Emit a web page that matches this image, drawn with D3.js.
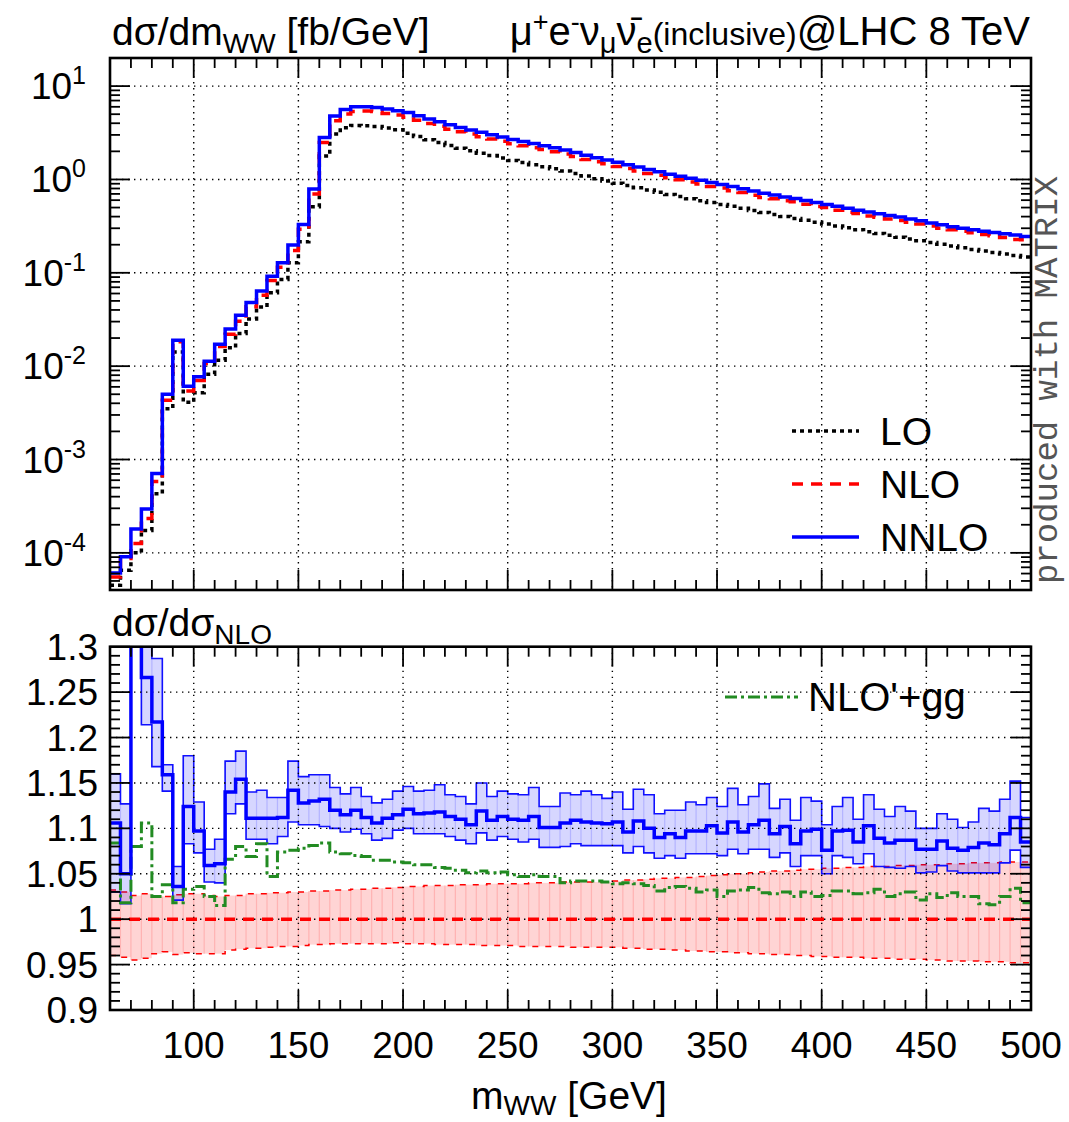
<!DOCTYPE html>
<html><head><meta charset="utf-8">
<script src="https://cdn.jsdelivr.net/npm/d3@7"></script>
<style>body{margin:0;background:#fff}svg{display:block}text{font-family:"Liberation Sans",Arial,Helvetica,sans-serif;fill:#000}</style>
</head><body><svg id="c" width="1069" height="1122"></svg>
<script>
// ---------------- data (bin lower edges, 5 GeV bins) ----------------
const binLo = [60,65,70,75,80,85,90,95,100,105,110,115,120,125,130,135,140,145,150,155,
 160,165,170,175,180,185,190,195,200,205,210,215,220,225,230,235,240,245,250,255,
 260,265,270,275,280,285,290,295,300,305,310,315,320,325,330,335,340,345,350,355,
 360,365,370,375,380,385,390,395,400,405,410,415,420,425,430,435,440,445,450,455,
 460,465,470,475,480,485,490,495];
const binHi = 500;
const xTicksMajor = [100,150,200,250,300,350,400,450,500];
const yTopDecades = [1e-4,1e-3,1e-2,1e-1,1e0,1e1];
const yTopExp = ["-4","-3","-2","-1","0","1"];
const yBotTicks = [0.9,0.95,1,1.05,1.1,1.15,1.2,1.25,1.3];
const yBotLabels = ["0.9","0.95","1","1.05","1.1","1.15","1.2","1.25","1.3"];

const xsLO = [4.5e-5,6.5e-5,1.0e-4,1.74e-4,4.3e-4,3.5e-3,1.42e-2,4.1e-3,5.2e-3,8.2e-3,
 1.16e-2,1.57e-2,2.24e-2,3.2e-2,4.3e-2,6.1e-2,8.5e-2,0.128,0.215,0.51,
 1.78,3.06,3.57,3.79,3.77,3.70,3.55,3.40,3.12,2.88,
 2.67,2.49,2.31,2.16,2.03,1.91,1.80,1.70,1.60,1.52,
 1.44,1.37,1.30,1.23,1.16,1.09,1.02,0.965,0.91,0.86,
 0.815,0.77,0.73,0.69,0.655,0.622,0.592,0.565,0.540,0.515,
 0.490,0.465,0.443,0.421,0.401,0.382,0.365,0.348,0.333,0.318,
 0.303,0.289,0.276,0.264,0.252,0.241,0.230,0.220,0.211,0.202,
 0.194,0.186,0.178,0.171,0.165,0.159,0.153,0.148];
const xsNLO = [5.5e-5,8.7e-5,1.26e-4,2.33e-4,5.83e-4,4.31e-3,1.83e-2,5.43e-3,7.02e-3,1.067e-2,
 1.62e-2,2.19e-2,3.03e-2,4.32e-2,5.76e-2,8.28e-2,0.115,0.173,0.293,0.699,
 2.49,4.26,5.04,5.36,5.40,5.33,5.10,4.89,4.64,4.30,
 3.98,3.71,3.46,3.24,3.06,2.86,2.72,2.56,2.41,2.30,
 2.18,2.09,1.98,1.87,1.76,1.64,1.55,1.47,1.38,1.31,
 1.23,1.16,1.11,1.04,0.991,0.939,0.893,0.843,0.808,0.759,
 0.725,0.679,0.640,0.622,0.590,0.577,0.542,0.514,0.502,0.469,
 0.446,0.431,0.405,0.393,0.378,0.363,0.348,0.334,0.318,0.301,
 0.289,0.279,0.268,0.257,0.250,0.239,0.228,0.226];
const xsNNLO = [6.1e-5,9.1e-5,1.8e-4,2.95e-4,7.1e-4,5.0e-3,1.9e-2,6.1e-3,7.7e-3,1.13e-2,
 1.72e-2,2.5e-2,3.5e-2,4.8e-2,6.4e-2,9.2e-2,0.128,0.198,0.33,0.79,
 2.82,4.77,5.62,6.0,6.0,5.9,5.67,5.45,5.2,4.8,
 4.45,4.15,3.85,3.6,3.38,3.2,3.02,2.85,2.68,2.55,
 2.43,2.3,2.18,2.07,1.95,1.82,1.71,1.62,1.53,1.44,
 1.36,1.28,1.21,1.14,1.08,1.03,0.98,0.93,0.885,0.84,
 0.795,0.75,0.71,0.68,0.65,0.625,0.595,0.565,0.54,0.515,
 0.49,0.468,0.447,0.428,0.41,0.395,0.378,0.36,0.342,0.327,
 0.312,0.300,0.289,0.279,0.27,0.262,0.254,0.245];

const ratioNNLO = [1.106,1.050,1.45,1.266,1.217,1.159,1.036,1.124,1.097,1.059,
 1.061,1.140,1.154,1.111,1.111,1.111,1.112,1.142,1.128,1.130,
 1.132,1.120,1.115,1.120,1.112,1.106,1.111,1.115,1.121,1.116,
 1.117,1.118,1.113,1.110,1.104,1.119,1.109,1.113,1.110,1.109,
 1.113,1.101,1.101,1.106,1.109,1.107,1.106,1.105,1.107,1.096,
 1.108,1.100,1.090,1.094,1.090,1.097,1.097,1.103,1.095,1.107,
 1.096,1.104,1.109,1.094,1.102,1.083,1.097,1.099,1.076,1.097,
 1.098,1.085,1.103,1.089,1.084,1.087,1.087,1.077,1.077,1.086,
 1.078,1.076,1.079,1.084,1.082,1.094,1.112,1.085];
const ratioNNLOhi = [1.16,1.127,1.55,1.33,1.287,1.170,1.058,1.180,1.129,1.077,
 1.088,1.174,1.185,1.140,1.142,1.134,1.134,1.174,1.157,1.159,
 1.159,1.145,1.138,1.145,1.135,1.128,1.132,1.141,1.146,1.141,
 1.142,1.148,1.137,1.135,1.127,1.150,1.135,1.141,1.138,1.137,
 1.145,1.124,1.124,1.139,1.137,1.141,1.137,1.133,1.140,1.121,
 1.143,1.137,1.116,1.120,1.120,1.129,1.126,1.134,1.124,1.144,
 1.126,1.135,1.149,1.122,1.132,1.109,1.134,1.130,1.104,1.124,
 1.134,1.110,1.137,1.121,1.113,1.124,1.119,1.100,1.100,1.116,
 1.110,1.101,1.107,1.122,1.119,1.132,1.152,1.112];
const ratioNNLOlo = [1.03,1.017,1.35,1.214,1.168,1.141,1.021,1.083,1.073,1.041,
 1.040,1.116,1.127,1.088,1.088,1.083,1.091,1.107,1.104,1.104,
 1.102,1.100,1.096,1.099,1.094,1.087,1.089,1.098,1.100,1.094,
 1.094,1.094,1.091,1.087,1.083,1.095,1.087,1.091,1.088,1.085,
 1.088,1.079,1.079,1.080,1.083,1.081,1.081,1.081,1.081,1.073,
 1.080,1.073,1.067,1.070,1.067,1.072,1.072,1.072,1.070,1.077,
 1.072,1.077,1.077,1.068,1.073,1.058,1.070,1.070,1.050,1.070,
 1.068,1.061,1.072,1.058,1.057,1.056,1.058,1.051,1.052,1.059,
 1.053,1.051,1.051,1.051,1.051,1.062,1.076,1.057];
const ratioNLOhi = [1.032,1.030,1.026,1.028,1.025,1.025,1.027,1.028,1.028,1.026,
 1.025,1.026,1.026,1.028,1.028,1.029,1.029,1.030,1.030,1.031,
 1.031,1.032,1.032,1.033,1.033,1.034,1.034,1.035,1.036,1.036,
 1.037,1.037,1.037,1.038,1.038,1.038,1.039,1.039,1.039,1.039,
 1.040,1.040,1.040,1.041,1.041,1.041,1.041,1.041,1.042,1.043,
 1.043,1.044,1.045,1.045,1.046,1.046,1.047,1.048,1.049,1.050,
 1.050,1.051,1.052,1.053,1.053,1.054,1.055,1.055,1.056,1.056,
 1.057,1.057,1.058,1.058,1.058,1.059,1.059,1.060,1.060,1.060,
 1.061,1.061,1.062,1.062,1.062,1.063,1.063,1.063];
const ratioNLOlo = [0.960,0.958,0.955,0.957,0.962,0.964,0.961,0.963,0.962,0.962,
 0.962,0.966,0.967,0.968,0.968,0.969,0.970,0.970,0.971,0.972,
 0.972,0.973,0.973,0.973,0.973,0.973,0.973,0.974,0.973,0.973,
 0.973,0.972,0.972,0.972,0.972,0.971,0.971,0.971,0.971,0.970,
 0.970,0.970,0.970,0.970,0.969,0.969,0.969,0.969,0.969,0.968,
 0.968,0.967,0.967,0.966,0.966,0.965,0.965,0.964,0.964,0.963,
 0.963,0.962,0.962,0.961,0.961,0.960,0.960,0.959,0.959,0.958,
 0.958,0.958,0.957,0.957,0.957,0.956,0.956,0.956,0.955,0.955,
 0.954,0.954,0.954,0.953,0.953,0.953,0.952,0.952];
const ratioGG = [1.084,1.018,1.080,1.106,1.025,1.038,1.018,1.033,1.036,1.025,
 1.015,1.066,1.080,1.069,1.083,1.047,1.074,1.076,1.078,1.081,
 1.084,1.074,1.072,1.070,1.069,1.065,1.065,1.063,1.062,1.060,
 1.060,1.057,1.056,1.054,1.051,1.053,1.051,1.052,1.049,1.047,
 1.049,1.047,1.047,1.040,1.042,1.042,1.042,1.041,1.039,1.040,
 1.039,1.037,1.031,1.035,1.036,1.034,1.030,1.032,1.025,1.031,
 1.032,1.035,1.029,1.028,1.030,1.025,1.030,1.025,1.026,1.031,
 1.031,1.028,1.029,1.033,1.025,1.028,1.030,1.021,1.028,1.024,
 1.029,1.025,1.025,1.017,1.016,1.025,1.034,1.018];

// ---------------- layout ----------------
const L = 110, R = 1031, T1 = 58, B1 = 590, T2 = 646.7, B2 = 1010;
const svg = d3.select("#c");
const x = d3.scaleLinear().domain([60, 500]).range([L, R]);
const yT = d3.scaleLog().domain([4e-5, 20]).range([B1, T1]);
const yB = d3.scaleLinear().domain([0.9, 1.3]).range([B2, T2]);
const binW = 5;

const defs = svg.append("defs");
defs.append("clipPath").attr("id","clipT").append("rect").attr("x",L).attr("y",T1).attr("width",R-L).attr("height",B1-T1);
defs.append("clipPath").attr("id","clipB").append("rect").attr("x",L).attr("y",T2).attr("width",R-L).attr("height",B2-T2);

function stepPts(vals){ const p = binLo.map((b,i)=>[b, vals[i]]); p.push([binHi, vals[vals.length-1]]); return p; }
const gridStyle = g => g.attr("stroke","#000").attr("stroke-width",1.4).attr("stroke-dasharray","1.4,4.6").attr("fill","none");

// ---------------- TOP PANEL ----------------
const gT = svg.append("g");
const gridT = gT.append("g").call(gridStyle);
xTicksMajor.filter(v=>v<500).forEach(v=>gridT.append("line").attr("x1",x(v)).attr("x2",x(v)).attr("y1",T1).attr("y2",B1));
yTopDecades.forEach(v=>gridT.append("line").attr("x1",L).attr("x2",R).attr("y1",yT(v)).attr("y2",yT(v)));

const lineT = d3.line().x(d=>x(d[0])).y(d=>yT(d[1])).curve(d3.curveStepAfter);
const curvesT = gT.append("g").attr("clip-path","url(#clipT)").attr("fill","none");
curvesT.append("path").attr("d",lineT(stepPts(xsLO))).attr("stroke","#000").attr("stroke-width",3.5).attr("stroke-dasharray","4,4");
curvesT.append("path").attr("d",lineT(stepPts(xsNLO))).attr("stroke","#ff0000").attr("stroke-width",3.5).attr("stroke-dasharray","11,8");
curvesT.append("path").attr("d",lineT(stepPts(xsNNLO))).attr("stroke","#0000ff").attr("stroke-width",3.5);

// ---------------- BOTTOM PANEL ----------------
const gB = svg.append("g");
const bands = gB.append("g").attr("clip-path","url(#clipB)");
// NLO band
bands.selectAll("rect.nlo").data(binLo).join("rect").attr("class","nlo")
  .attr("x",d=>x(d)).attr("width",d=>x(d+binW)-x(d))
  .attr("y",(d,i)=>yB(ratioNLOhi[i])).attr("height",(d,i)=>yB(ratioNLOlo[i])-yB(ratioNLOhi[i]))
  .attr("fill","#ff0000").attr("fill-opacity",0.17);
bands.selectAll("line.nlov").data(binLo).join("line").attr("class","nlov")
  .attr("x1",d=>x(d)).attr("x2",d=>x(d))
  .attr("y1",(d,i)=>yB(ratioNLOhi[i])).attr("y2",(d,i)=>yB(ratioNLOlo[i]))
  .attr("stroke","#ff8080").attr("stroke-opacity",0.4).attr("stroke-width",1.2);
const lineB = d3.line().x(d=>x(d[0])).y(d=>yB(d[1])).curve(d3.curveStepAfter);
bands.append("path").attr("d",lineB(stepPts(ratioNLOhi))).attr("fill","none").attr("stroke","#ff0000").attr("stroke-width",1.5).attr("stroke-dasharray","6,7");
bands.append("path").attr("d",lineB(stepPts(ratioNLOlo))).attr("fill","none").attr("stroke","#ff0000").attr("stroke-width",1.5).attr("stroke-dasharray","6,7");
// NNLO band
bands.selectAll("rect.nnlo").data(binLo).join("rect").attr("class","nnlo")
  .attr("x",d=>x(d)).attr("width",d=>x(d+binW)-x(d))
  .attr("y",(d,i)=>yB(ratioNNLOhi[i])).attr("height",(d,i)=>yB(ratioNNLOlo[i])-yB(ratioNNLOhi[i]))
  .attr("fill","#0000ff").attr("fill-opacity",0.16);
bands.selectAll("line.nnlov").data(binLo).join("line").attr("class","nnlov")
  .attr("x1",d=>x(d)).attr("x2",d=>x(d))
  .attr("y1",(d,i)=>yB(ratioNNLOhi[i])).attr("y2",(d,i)=>yB(ratioNNLOlo[i]))
  .attr("stroke","#8080ff").attr("stroke-opacity",0.4).attr("stroke-width",1.2);
bands.append("path").attr("d",lineB(stepPts(ratioNNLOhi))).attr("fill","none").attr("stroke","#1010ff").attr("stroke-width",1.6);
bands.append("path").attr("d",lineB(stepPts(ratioNNLOlo))).attr("fill","none").attr("stroke","#1010ff").attr("stroke-width",1.6);

const gridB = gB.append("g").call(gridStyle);
xTicksMajor.filter(v=>v<500).forEach(v=>gridB.append("line").attr("x1",x(v)).attr("x2",x(v)).attr("y1",T2).attr("y2",B2));
yBotTicks.filter(v=>v>0.9 && v<1.3).forEach(v=>gridB.append("line").attr("x1",L).attr("x2",R).attr("y1",yB(v)).attr("y2",yB(v)));

const curvesB = gB.append("g").attr("clip-path","url(#clipB)").attr("fill","none");
curvesB.append("path").attr("d",lineB(stepPts(ratioGG))).attr("stroke","#228b22").attr("stroke-width",3).attr("stroke-dasharray","12,4,3,4");
curvesB.append("line").attr("x1",L).attr("x2",R).attr("y1",yB(1)).attr("y2",yB(1)).attr("stroke","#ff0000").attr("stroke-width",3.5).attr("stroke-dasharray","11,8");
curvesB.append("path").attr("d",lineB(stepPts(ratioNNLO))).attr("stroke","#0000ff").attr("stroke-width",3.5);

// ---------------- ticks & frames ----------------
const tickG = svg.append("g").attr("stroke","#000").attr("stroke-width",1.8);
const minorX = d3.range(70, 500, 10).filter(v=>v%50!==0);
function xTicks(top, bottom){
  xTicksMajor.forEach(v=>{ tickG.append("line").attr("x1",x(v)).attr("x2",x(v)).attr("y1",bottom).attr("y2",bottom-20);
                           tickG.append("line").attr("x1",x(v)).attr("x2",x(v)).attr("y1",top).attr("y2",top+20); });
  minorX.forEach(v=>{ tickG.append("line").attr("x1",x(v)).attr("x2",x(v)).attr("y1",bottom).attr("y2",bottom-10);
                      tickG.append("line").attr("x1",x(v)).attr("x2",x(v)).attr("y1",top).attr("y2",top+10); });
}
xTicks(T1,B1); xTicks(T2,B2);
function yTick(yy, len){ tickG.append("line").attr("x1",L).attr("x2",L+len).attr("y1",yy).attr("y2",yy);
                         tickG.append("line").attr("x1",R).attr("x2",R-len).attr("y1",yy).attr("y2",yy); }
yTopDecades.forEach(v=>yTick(yT(v),20));
[1e-5,1e-4,1e-3,1e-2,1e-1,1].forEach(dec=>{ for(let m=2;m<=9;m++){ const v=dec*m; if(v>4e-5&&v<20) yTick(yT(v),10);} });
d3.range(0.9,1.3001,0.01).forEach(v=>{ const r=Math.round(v*100); yTick(yB(r/100), r%5===0?20:10); });

svg.append("rect").attr("x",L).attr("y",T1).attr("width",R-L).attr("height",B1-T1).attr("fill","none").attr("stroke","#000").attr("stroke-width",2.6);
svg.append("rect").attr("x",L).attr("y",T2).attr("width",R-L).attr("height",B2-T2).attr("fill","none").attr("stroke","#000").attr("stroke-width",2.6);

// ---------------- labels ----------------
const FS = 37;
yTopDecades.forEach((v,i)=>{
  const t = svg.append("text").attr("x",86).attr("y",yT(v)+13).attr("text-anchor","end").style("font-size",FS+"px");
  t.append("tspan").text("10");
  t.append("tspan").attr("dy",-15).style("font-size","25px").text(yTopExp[i]);
});
yBotTicks.forEach((v,i)=>{
  svg.append("text").attr("x",98).attr("y",yB(v)+13).attr("text-anchor","end").style("font-size",FS+"px").text(yBotLabels[i]);
});
xTicksMajor.forEach(v=>{
  svg.append("text").attr("x",x(v)).attr("y",1058).attr("text-anchor","middle").style("font-size",FS+"px").text(v);
});
// axis title
{ const t = svg.append("text").attr("x",569).attr("y",1109).attr("text-anchor","middle").style("font-size","39px");
  t.append("tspan").text("m"); t.append("tspan").attr("dy",6).style("font-size","28px").text("WW");
  t.append("tspan").attr("dy",-6).text(" [GeV]"); }
// top titles
{ const t = svg.append("text").attr("x",112).attr("y",45).style("font-size","39px");
  t.append("tspan").text("dσ/dm"); t.append("tspan").attr("dy",8).style("font-size","28px").text("WW");
  t.append("tspan").attr("dy",-8).text(" [fb/GeV]"); }
{ const t = svg.append("text").attr("x",1030).attr("y",45).attr("text-anchor","end").style("font-size","40px");
  t.append("tspan").text("μ");
  t.append("tspan").attr("dy",-14).style("font-size","27px").text("+");
  t.append("tspan").attr("dy",14).text("e");
  t.append("tspan").attr("dy",-14).style("font-size","27px").text("-");
  t.append("tspan").attr("dy",14).text("ν");
  t.append("tspan").attr("dy",8).style("font-size","29px").text("μ");
  t.append("tspan").attr("dy",-8).text("ν\u0304");
  t.append("tspan").attr("dy",8).style("font-size","29px").text("e");
  t.append("tspan").attr("dy",-8).style("font-size","32px").text("(inclusive)");
  t.append("tspan").text("@LHC 8 TeV"); }
{ const t = svg.append("text").attr("x",112).attr("y",636).style("font-size","39px");
  t.append("tspan").text("dσ/dσ"); t.append("tspan").attr("dy",8).style("font-size","28px").text("NLO"); }

// produced with MATRIX
svg.append("text").attr("transform","translate(1057,380) rotate(-90)").attr("text-anchor","middle")
  .style("font-family","'Liberation Mono','DejaVu Sans Mono',monospace").style("font-size","34px").style("fill","#555")
  .text("produced with MATRIX");

// ---------------- legends ----------------
const legTop = [
  {name:"LO", color:"#000", dash:"4,4"},
  {name:"NLO", color:"#ff0000", dash:"11,8"},
  {name:"NNLO", color:"#0000ff", dash:null}];
const legY = [431, 484, 537];
legTop.forEach((d,i)=>{
  const ln = svg.append("line").attr("x1",792).attr("x2",859).attr("y1",legY[i]).attr("y2",legY[i]).attr("stroke",d.color).attr("stroke-width",3.5);
  if (d.dash) ln.attr("stroke-dasharray",d.dash);
  svg.append("text").attr("x",880).attr("y",legY[i]+14).style("font-size","39px").text(d.name);
});
svg.append("line").attr("x1",725).attr("x2",798).attr("y1",697).attr("y2",697).attr("stroke","#228b22").attr("stroke-width",3).attr("stroke-dasharray","12,4,3,4");
svg.append("text").attr("x",808).attr("y",711).style("font-size","40px").text("NLO'+gg");
</script></body></html>
